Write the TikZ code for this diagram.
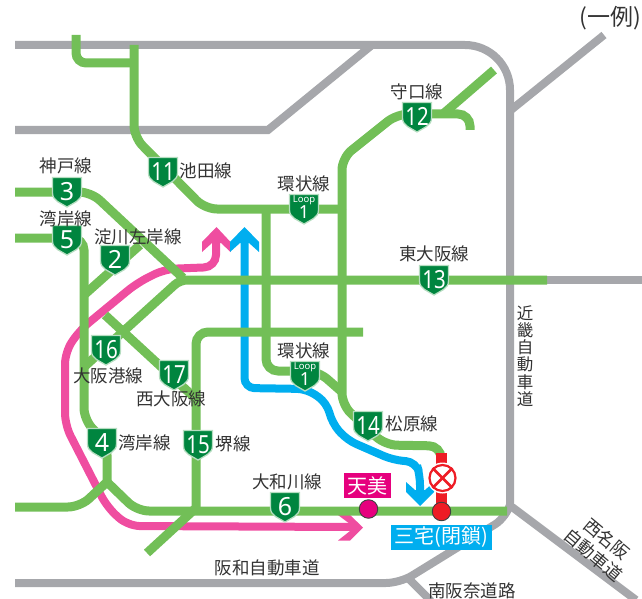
\documentclass[tikz,border=0pt]{standalone}
\usepackage{fontspec}
\setmainfont{Noto Sans CJK JP}
\newfontfamily\numfont{Noto Sans}[Scale=1]
\definecolor{rd}{HTML}{72BF57}
\definecolor{gy}{HTML}{A6A7AB}
\definecolor{pk}{HTML}{EF4DA0}
\definecolor{bl}{HTML}{00AEEF}
\definecolor{dg}{HTML}{00853F}
\definecolor{sh}{HTML}{B5DDC0}
\definecolor{tx}{HTML}{333333}
\definecolor{mg}{HTML}{E6007E}
\definecolor{rr}{HTML}{EE1C25}
\tikzset{
 x=1pt,y=-1pt,
 road/.style={draw=gy,line width=8pt,rounded corners=14pt},
 line/.style={draw=rd,line width=9pt,rounded corners=12pt},
 route/.style={line width=8pt,rounded corners=12pt},
 lab/.style={text=tx,font=\fontsize{17.5}{18}\selectfont,inner sep=0pt},
 num/.style={text=white,font=\numfont\bfseries\fontsize{25}{25}\selectfont,inner sep=0pt},
 stn/.style={circle,draw=black!75,line width=0.9pt,minimum size=18.5pt,inner sep=0pt},
 box/.style={inner sep=0pt,text=white,font=\fontsize{20}{20}\selectfont}
}
\newcommand{\shieldbase}[2]{%
 \fill[fill=dg,draw=sh,line width=1.3pt] (#1-14.5,#2-14.5) -- (#1+14.5,#2-14.5) -- (#1+14.5,#2+1) .. controls (#1+14.5,#2+9) and (#1+6,#2+11) .. (#1,#2+15) .. controls (#1-6,#2+11) and (#1-14.5,#2+9) .. (#1-14.5,#2+1) -- cycle;
}
\newcommand{\shieldat}[4]{\shieldbase{#2}{#3}\node[num] (#1) at (#2,#3-0.5) {#4};}
\newcommand{\shieldtwo}[4]{\shieldbase{#2}{#3}\node[num] (#1) at (#2,#3-0.5) {\scalebox{0.82}[1]{#4}};}
\newcommand{\shieldloop}[3]{\shieldbase{#2}{#3}
 \node[text=white,inner sep=0pt,font=\numfont\fontsize{9.5}{9.5}\selectfont] (#1a) at (#2,#3-8.5) {Loop};
 \node[text=white,inner sep=0pt,font=\numfont\bfseries\fontsize{18}{18}\selectfont] (#1) at (#2,#3+3.5) {1};
}
\begin{document}
\begin{tikzpicture}
\useasboundingbox (0,0) rectangle (642,599);
% roads
\draw[road,rounded corners=45pt] (15,45) -- (510,45) -- (510,508);
\draw[road,rounded corners=0pt] (15,130) -- (268,130) -- (372,45);
\draw[road,rounded corners=0pt] (511,110) -- (604,35);
\draw[road,rounded corners=0pt] (545,280) -- (642,280);
\draw[road,rounded corners=0pt] (512,507) -- (636,600);
\draw[road,rounded corners=14pt] (510,505) -- (507,517) -- (400,583) -- (15,583);
\draw[road,rounded corners=0pt] (406,576) -- (431,601);
% pink
\draw[pk,route] (216,242) -- (216,267) -- (165,269) -- (137,283) -- (80,330) -- (65,352) -- (65,425) -- (107,507) -- (128,526) -- (352,527);
\fill[pk] (216.5,227) -- (230.5,242) -- (230.5,252) -- (221,243) -- (212,243) -- (202,252) -- (202,242) -- cycle;
\fill[pk] (363,527.5) -- (350,540.5) -- (338,540.5) -- (350,531) -- (350,524) -- (338,515) -- (350,515) -- cycle;
% blue
\draw[bl,route,rounded corners=10pt] (244.5,240) -- (244.5,388) -- (307,389) -- (327,403) -- (332,423) -- (347,440) -- (393,460) -- (416,462) -- (420,475) -- (420,496);
\fill[bl] (244.5,227) -- (259,242) -- (259,252) -- (249,243) -- (240,243) -- (230,252) -- (230,242) -- cycle;
\fill[bl] (420,506) -- (434,492) -- (434,482) -- (425,490) -- (415,490) -- (406,482) -- (406,492) -- cycle;
% green
\draw[line,rounded corners=10pt] (76,35) -- (76,63) -- (134,63);
\draw[line] (134,45) -- (134,137) -- (205,209) -- (342,209);
\draw[line] (342,209) -- (342,158) -- (397,114) -- (470,114) -- (470,130);
\draw[line,rounded corners=0pt] (443,114) -- (494,70);
\draw[line] (342,209) -- (342,405) -- (385,445) -- (441,446) -- (441,456);
\draw[line] (266,209) -- (266,371) -- (318,371) -- (342,392);
\draw[line] (15,192) -- (91,192) -- (183,278);
\draw[line] (15,238) -- (84,238) -- (84,420) -- (107,443) -- (107,483);
\draw[line,rounded corners=0pt] (84,295) -- (140,245);
\draw[line,rounded corners=7pt] (547,280) -- (180,280) -- (84,367);
\draw[line,rounded corners=0pt] (105,315) -- (195,398);
\draw[line] (363,332) -- (196,332) -- (196,511);
\draw[line,rounded corners=0pt] (196,508) -- (147,553);
\draw[line,rounded corners=12pt] (15,507) -- (80,507) -- (107,482);
\draw[line,rounded corners=12pt] (107,482) -- (137,511) -- (507,511);
% closed
\draw[rr,line width=10.5pt] (441.5,453) -- (441.5,511);
\node[circle,draw=white,fill=white,line width=1pt,minimum size=30pt,inner sep=0pt] (closedbg) at (442.5,478) {};
\node[circle,draw=rr,fill=white,line width=2.2pt,minimum size=26pt,inner sep=0pt] (closed) at (442.5,478) {};
\draw[rr,line width=2.5pt] (closed.north west) -- (closed.south east);
\draw[rr,line width=2.5pt] (closed.north east) -- (closed.south west);
\node[stn,fill=rr] (miyake) at (441.5,511.5) {};
\node[stn,fill=mg] (amami) at (368.5,509) {};
\node[box,fill=mg,minimum width=47pt,minimum height=25pt] (amamil) at (367.5,485.5) {天美};
\node[box,fill=bl,minimum width=101pt,minimum height=25pt] (miyakel) at (441.5,537.5) {三宅(閉鎖)};
% shields
\shieldat{s3}{67}{192}{3}
\shieldat{s5}{67}{240}{5}
\shieldat{s2}{115}{260}{2}
\shieldtwo{s11}{163}{172}{11}
\shieldtwo{s12}{417}{117}{12}
\shieldtwo{s13}{434}{280}{13}
\shieldtwo{s16}{106}{350}{16}
\shieldtwo{s17}{174}{375}{17}
\shieldat{s4}{102}{443}{4}
\shieldtwo{s15}{198}{445}{15}
\shieldtwo{s14}{368}{426}{14}
\shieldat{s6}{285}{507}{6}
\shieldloop{l1}{304}{209}
\shieldloop{l2}{305}{376}
% labels
\node[lab] (t1) at (66,166) {神戸線};
\node[lab] (t2) at (66,219) {湾岸線};
\node[lab] (t3) at (138,237) {淀川左岸線};
\node[lab] (t4) at (206,171) {池田線};
\node[lab] (t5) at (304,184) {環状線};
\node[lab] (t6) at (417,92) {守口線};
\node[lab] (t7) at (434,254) {東大阪線};
\node[lab] (t8) at (304,351) {環状線};
\node[lab] (t9) at (108,376) {大阪港線};
\node[lab] (t10) at (171,399) {西大阪線};
\node[lab] (t11) at (144.5,443) {湾岸線};
\node[lab] (t12) at (233,444) {堺線};
\node[lab] (t13) at (412,424) {松原線};
\node[lab] (t14) at (287,482) {大和川線};
\node[lab] (t15) at (267,568) {阪和自動車道};
\node[lab] (t16) at (472,591) {南阪奈道路};
\node[lab,align=center,font=\fontsize{16.5}{17.3}\selectfont] (t17) at (525,356) {近\\畿\\自\\動\\車\\道};
\node[lab,align=center,rotate=-40,font=\fontsize{17.5}{21}\selectfont] (t18) at (600,547) {西名阪\\自動車道};
\node[lab,font=\fontsize{23}{23}\selectfont] (t19) at (610,18) {(一例)};
\end{tikzpicture}
\end{document}
